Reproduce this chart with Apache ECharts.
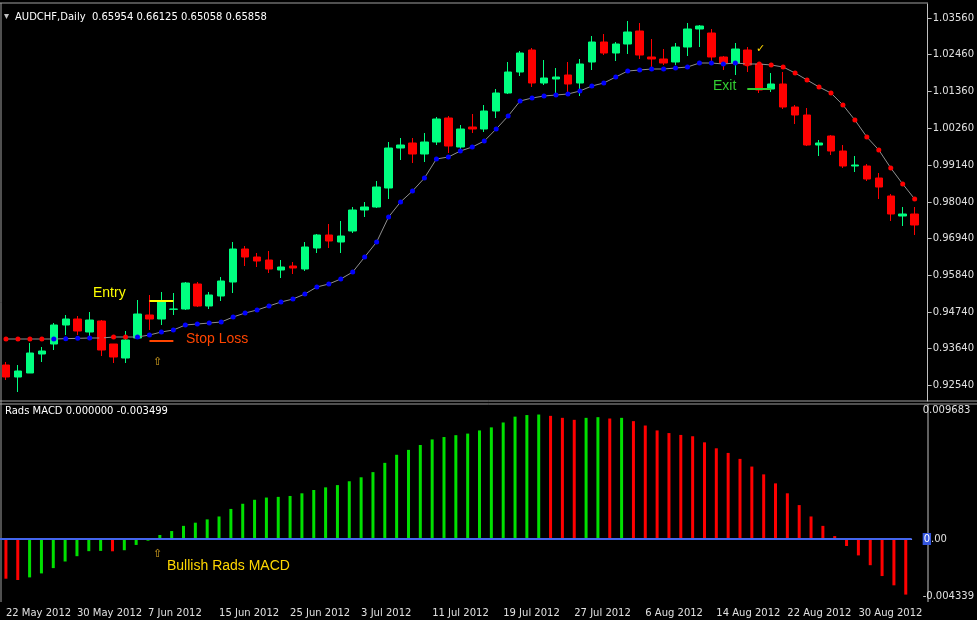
<!DOCTYPE html>
<html>
<head>
<meta charset="utf-8">
<script src="https://cdn.jsdelivr.net/npm/echarts@6/dist/echarts.min.js"></script>
<style>
  html, body { margin: 0; padding: 0; background: #000; }
  #chart { width: 977px; height: 620px; }
</style>
</head>
<body>
<div id="chart"></div>
<script>
// Fechas (días hábiles)
var dates = ['22 May 2012','23 May 2012','24 May 2012','25 May 2012','28 May 2012','29 May 2012','30 May 2012','31 May 2012',
  '1 Jun 2012','4 Jun 2012','5 Jun 2012','6 Jun 2012','7 Jun 2012','8 Jun 2012','11 Jun 2012','12 Jun 2012','13 Jun 2012','14 Jun 2012',
  '15 Jun 2012','18 Jun 2012','19 Jun 2012','20 Jun 2012','21 Jun 2012','22 Jun 2012','25 Jun 2012','26 Jun 2012','27 Jun 2012',
  '28 Jun 2012','29 Jun 2012','2 Jul 2012','3 Jul 2012','4 Jul 2012','5 Jul 2012','6 Jul 2012','9 Jul 2012','10 Jul 2012',
  '11 Jul 2012','12 Jul 2012','13 Jul 2012','16 Jul 2012','17 Jul 2012','18 Jul 2012','19 Jul 2012','20 Jul 2012','23 Jul 2012',
  '24 Jul 2012','25 Jul 2012','26 Jul 2012','27 Jul 2012','30 Jul 2012','31 Jul 2012','1 Aug 2012','2 Aug 2012','3 Aug 2012',
  '6 Aug 2012','7 Aug 2012','8 Aug 2012','9 Aug 2012','10 Aug 2012','13 Aug 2012','14 Aug 2012','15 Aug 2012','16 Aug 2012',
  '17 Aug 2012','20 Aug 2012','21 Aug 2012','22 Aug 2012','23 Aug 2012','24 Aug 2012','27 Aug 2012','28 Aug 2012','29 Aug 2012',
  '30 Aug 2012','31 Aug 2012','3 Sep 2012','4 Sep 2012','5 Sep 2012'];

var opens = [.9315,.9279,.9291,.9348,.9378,.9435,.9453,.9414,.9447,.9378,
  .9336,.9396,.9465,.9453,.9482,.9483,.9558,.9492,.9522,.9564,
  .9663,.9639,.9630,.9600,.9612,.9603,.9666,.9705,.9684,.9717,
  .9780,.9789,.9846,.9966,.9981,.9948,.9984,1.0056,.9969,1.0029,
  1.0023,1.0077,1.0131,1.0194,1.0260,1.0161,1.0173,1.0185,1.0161,1.0224,
  1.0284,1.0251,1.0278,1.0317,1.0239,1.0233,1.0224,1.0269,1.0323,1.0311,
  1.0239,1.0221,1.0260,1.0218,1.0143,1.0158,1.0089,1.0065,.9975,1.0002,
  .9957,.9912,.9912,.9876,.9822,.9762,.9768];
var closes = [.9279,.9297,.9351,.9357,.9435,.9453,.9417,.9450,.9360,.9339,
  .9390,.9468,.9453,.9504,.9483,.9561,.9492,.9525,.9567,.9663,
  .9639,.9627,.9603,.9609,.9606,.9669,.9705,.9687,.9702,.9780,
  .9789,.9849,.9966,.9975,.9948,.9984,1.0053,.9972,1.0023,1.0023,
  1.0077,1.0131,1.0194,1.0251,1.0161,1.0176,1.0179,1.0158,1.0218,1.0284,
  1.0251,1.0278,1.0314,1.0245,1.0233,1.0221,1.0269,1.0323,1.0332,1.0239,
  1.0221,1.0263,1.0215,1.0140,1.0158,1.0089,1.0065,.9975,.9981,.9957,
  .9912,.9915,.9873,.9849,.9768,.9768,.9735];
var highs = [.9324,.9315,.9381,.9369,.9441,.9465,.9462,.9474,.9450,.9378,
  .9417,.9510,.9525,.9534,.9531,.9564,.9564,.9534,.9579,.9684,
  .9672,.9651,.9657,.9630,.9624,.9684,.9708,.9738,.9747,.9789,
  .9804,.9867,.9984,.9996,.9996,1.0011,1.0059,1.0062,1.0035,1.0068,
  1.0095,1.0143,1.0224,1.0257,1.0266,1.0230,1.0206,1.0224,1.0233,1.0302,
  1.0308,1.0284,1.0347,1.0341,1.0293,1.0263,1.0281,1.0341,1.0335,1.0323,
  1.0242,1.0281,1.0269,1.0224,1.0191,1.0194,1.0095,1.0086,.9990,1.0005,
  .9975,.9942,.9918,.9891,.9828,.9789,.9789];
var lows = [.9270,.9234,.9291,.9324,.9360,.9405,.9405,.9396,.9342,.9321,
  .9321,.9396,.9420,.9435,.9465,.9480,.9489,.9483,.9507,.9531,
  .9612,.9609,.9591,.9576,.9588,.9597,.9651,.9666,.9651,.9711,
  .9759,.9786,.9813,.9930,.9921,.9924,.9975,.9951,.9963,1.0011,
  1.0014,1.0056,1.0128,1.0182,1.0149,1.0155,1.0131,1.0134,1.0122,1.0200,
  1.0245,1.0227,1.0248,1.0233,1.0209,1.0215,1.0215,1.0242,1.0269,1.0224,
  1.0200,1.0185,1.0194,1.0131,1.0134,1.0083,1.0038,.9972,.9942,.9945,
  .9906,.9894,.9867,.9813,.9747,.9732,.9705];
// Media móvil con puntos
var ma = [.9393,.9393,.9393,.9393,.9393,.9394,.9395,.9396,.9396,.9399,
  .9399,.9399,.9405,.9414,.9420,.9435,.9438,.9441,.9444,.9459,
  .9471,.9480,.9492,.9504,.9513,.9528,.9549,.9558,.9573,.9594,
  .9639,.9684,.9759,.9804,.9837,.9876,.9933,.9939,.9957,.9969,
  .9987,1.0023,1.0062,1.0107,1.0116,1.0122,1.0125,1.0128,1.0137,1.0152,
  1.0161,1.0179,1.0197,1.0200,1.0203,1.0203,1.0206,1.0209,1.0221,1.0221,
  1.0218,1.0221,1.0218,1.0218,1.0215,1.0209,1.0191,1.0170,1.0149,1.0131,
  1.0095,1.0050,.9999,.9960,.9906,.9858,.9813];
// Histograma Rads MACD
var macd = [-0.0030,-0.0031,-0.0029,-0.0026,-0.0022,-0.0017,-0.0013,-0.00092,-0.00090,-0.00093,
  -0.00085,-0.00045,-0.00013,0.0003,0.0006,0.00099,0.00123,0.00148,0.0017,0.00227,
  0.00266,0.00296,0.00313,0.00318,0.00325,0.00345,0.0037,0.0039,0.00407,0.00436,
  0.00466,0.00505,0.00575,0.00636,0.00673,0.0071,0.00752,0.0077,0.00784,0.00796,
  0.0082,0.00843,0.0088,0.00924,0.00936,0.0094,0.0093,0.00915,0.009,0.00915,
  0.0092,0.0091,0.00915,0.0089,0.00857,0.0082,0.0080,0.00786,0.00776,0.0073,
  0.00685,0.0065,0.00605,0.00547,0.00488,0.0042,0.00345,0.00256,0.0017,0.00099,
  0.00022,-0.00053,-0.00124,-0.00198,-0.0028,-0.0035,-0.0042];

var priceTicks = [0.9254,0.9364,0.9474,0.9584,0.9694,0.9804,0.9914,1.0026,1.0136,1.0246,1.0356];
var macdTicks = [-0.004339, 0, 0.009683];

var entryPrice = 0.9507, stopPrice = 0.9387, exitPrice = 1.0143;

var candleData = opens.map(function (o, i) { return [o, closes[i], lows[i], highs[i]]; });
var maData = ma.map(function (v, i) {
  return { value: v, itemStyle: { color: v > closes[i] ? '#ff0000' : '#0000ff' } };
});
var macdData = macd.map(function (v, i) {
  var up = i > 0 && v >= macd[i - 1];
  return { value: v, itemStyle: { color: up ? '#00e000' : '#ff0000' } };
});

var font = 'DejaVu Sans';
var chart = echarts.init(document.getElementById('chart'));

chart.setOption({
  backgroundColor: '#000',
  animation: false,
  grid: [
    { left: -3, width: 924, top: 4, height: 397 },
    { left: -3, width: 924, top: 405, height: 197 }
  ],
  xAxis: [
    { type: 'category', gridIndex: 0, data: dates, axisLine: { show: false }, axisTick: { show: false }, axisLabel: { show: false } },
    { type: 'category', gridIndex: 1, data: dates,
      axisLine: { lineStyle: { color: '#c0c0c0' } },
      axisTick: { alignWithLabel: true, interval: 5, length: 4, inside: false, lineStyle: { color: '#c0c0c0' } },
      axisLabel: { interval: 5, color: '#e0e0e0', fontFamily: font, fontSize: 10, align: 'left', margin: 6 } }
  ],
  yAxis: [
    { type: 'value', gridIndex: 0, position: 'right', offset: 7, min: 0.9207, max: 1.0398, scale: true,
      splitLine: { show: false },
      axisLine: { show: true, onZero: false, lineStyle: { color: '#c0c0c0' } },
      axisTick: { show: true, length: 4, customValues: priceTicks, lineStyle: { color: '#c0c0c0' } },
      axisLabel: { customValues: priceTicks, color: '#e0e0e0', fontFamily: font, fontSize: 10, margin: 5,
        formatter: function (v) { return v.toFixed(5); } } },
    { type: 'value', gridIndex: 1, position: 'right', min: -0.00476, max: 0.01012,
      splitLine: { show: false },
      axisLine: { show: false },
      axisTick: { show: false },
      axisLabel: { customValues: macdTicks, color: '#e0e0e0', fontFamily: font, fontSize: 10, margin: 11,
        formatter: function (v) { return v === 0 ? '{z|0}.00' : v.toFixed(6); },
        rich: { z: { backgroundColor: '#3355dd', color: '#fff', fontFamily: font, fontSize: 10, padding: [1, 1] } } } }
  ],
  series: [
    { type: 'candlestick', xAxisIndex: 0, yAxisIndex: 0, data: candleData, barWidth: 8,
      itemStyle: { color: '#00ff80', color0: '#ff0000', borderColor: '#00ff80', borderColor0: '#ff0000', borderWidth: 1 },
      markLine: { silent: true, symbol: 'none', label: { show: false },
        data: [
          [{ coord: [12, entryPrice], lineStyle: { color: '#ffff00', width: 2, type: 'solid' } }, { coord: [14, entryPrice] }],
          [{ coord: [12, stopPrice], lineStyle: { color: '#ff4500', width: 2, type: 'solid' } }, { coord: [14, stopPrice] }],
          [{ coord: [62, exitPrice], lineStyle: { color: '#32cd32', width: 2, type: 'solid' } }, { coord: [64, exitPrice] }]
        ] } },
    { type: 'line', xAxisIndex: 0, yAxisIndex: 0, data: maData, symbol: 'circle', symbolSize: 5,
      lineStyle: { color: '#909090', width: 1 }, z: 3 },
    { type: 'bar', xAxisIndex: 1, yAxisIndex: 1, data: macdData, barWidth: 3,
      markLine: { silent: true, symbol: 'none', label: { show: false },
        data: [{ yAxis: 0 }], lineStyle: { color: '#4466ee', width: 2, type: 'solid' } } }
  ],
  graphic: [
    { type: 'line', shape: { x1: 0, y1: 3, x2: 928, y2: 3 }, style: { stroke: '#a0a0a0' } },
    { type: 'line', shape: { x1: 0, y1: 401, x2: 977, y2: 401 }, style: { stroke: '#a0a0a0' } },
    { type: 'line', shape: { x1: 0, y1: 404, x2: 977, y2: 404 }, style: { stroke: '#a0a0a0' } },
    { type: 'line', shape: { x1: 1, y1: 3, x2: 1, y2: 602 }, style: { stroke: '#a0a0a0' } },
    { type: 'line', shape: { x1: 928, y1: 404, x2: 928, y2: 602 }, style: { stroke: '#c0c0c0' } },
    { type: 'text', left: 4, top: 11, style: { text: '\u25BE', fill: '#c0c0c0', font: '10px ' + font } },
    { type: 'text', left: 15, top: 12, style: { text: 'AUDCHF,Daily  0.65954 0.66125 0.65058 0.65858', fill: '#ffffff', font: '10px ' + font } },
    { type: 'text', left: 5, top: 406, style: { text: 'Rads MACD 0.000000 -0.003499', fill: '#ffffff', font: '10px ' + font } },
    { type: 'text', left: 93, top: 286, style: { text: 'Entry', fill: '#ffff00', font: '14px Liberation Sans' } },
    { type: 'text', left: 186, top: 332, style: { text: 'Stop Loss', fill: '#ff4500', font: '14px Liberation Sans' } },
    { type: 'text', left: 153, top: 357, style: { text: '\u21E7', fill: '#daa520', font: '11px ' + font } },
    { type: 'text', left: 713, top: 79, style: { text: 'Exit', fill: '#32cd32', font: '14px Liberation Sans' } },
    { type: 'text', left: 756, top: 44, style: { text: '\u2713', fill: '#ffd700', font: '11px ' + font } },
    { type: 'text', left: 153, top: 549, style: { text: '\u21E7', fill: '#daa520', font: '11px ' + font } },
    { type: 'text', left: 167, top: 559, style: { text: 'Bullish Rads MACD', fill: '#ffd700', font: '14px Liberation Sans' } }
  ]
});
</script>
</body>
</html>
